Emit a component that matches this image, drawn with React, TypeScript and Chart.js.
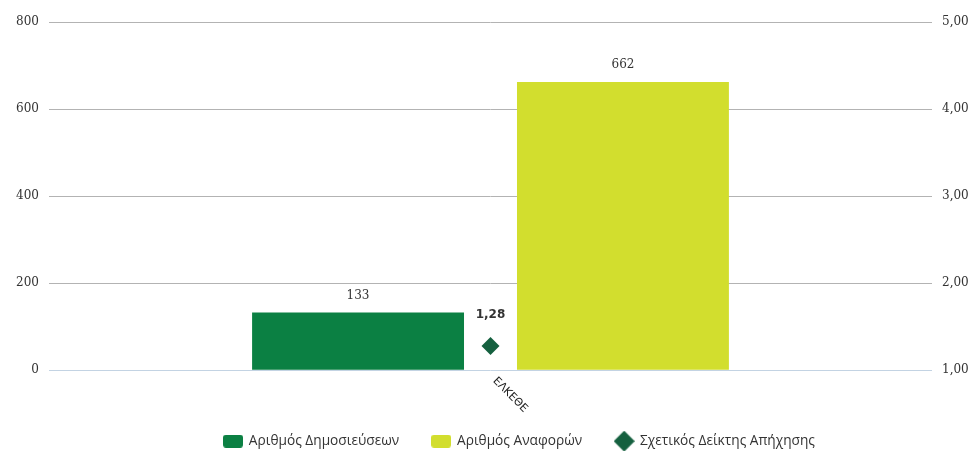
import React, { useEffect, useRef } from "react";
import { Chart, registerables } from "chart.js";

Chart.register(...registerables);

const categories = ["ΕΛΚΕΘΕ"];
const publications = [133];
const citations = [662];
const relativeIndex = [1.28];
const seriesLabels = ["Αριθμός Δημοσιεύσεων", "Αριθμός Αναφορών", "Σχετικός Δείκτης Απήχησης"];
const leftTicks = [0, 200, 400, 600, 800];
const rightTicks = [1, 2, 3, 4, 5];

const GREEN = "#0b8043";
const YELLOW = "#d2de2e";
const DARK = "#15603f";

const W = 1039;
const H = 458;

function makeBox(color: string, w: number, h: number, r: number) {
  const c = document.createElement("canvas");
  c.width = w;
  c.height = h;
  const ctx = c.getContext("2d")!;
  ctx.fillStyle = color;
  ctx.beginPath();
  (ctx as any).roundRect(0, 0, w, h, r);
  ctx.fill();
  return c;
}

function makeDiamond(color: string, s: number) {
  const c = document.createElement("canvas");
  c.width = s;
  c.height = s;
  const ctx = c.getContext("2d")!;
  ctx.fillStyle = color;
  ctx.beginPath();
  ctx.moveTo(s / 2, 0);
  ctx.lineTo(s, s / 2);
  ctx.lineTo(s / 2, s);
  ctx.lineTo(0, s / 2);
  ctx.closePath();
  ctx.fill();
  return c;
}

const fmtComma = (v: number, d: number) => v.toFixed(d).replace(".", ",");

const labelsPlugin = {
  id: "valueLabels",
  afterDatasetsDraw(chart: any) {
    const ctx = chart.ctx;
    ctx.save();
    [0, 1].forEach((di) => {
      const meta = chart.getDatasetMeta(di);
      meta.data.forEach((el: any, i: number) => {
        const v = chart.data.datasets[di].data[i];
        ctx.font = "12px 'DejaVu Serif'";
        ctx.fillStyle = "#333";
        ctx.textAlign = "center";
        ctx.textBaseline = "middle";
        ctx.fillText(String(v), el.x, el.y - 17);
      });
    });
    const meta2 = chart.getDatasetMeta(2);
    meta2.data.forEach((el: any, i: number) => {
      const v = chart.data.datasets[2].data[i];
      ctx.font = "bold 12px 'DejaVu Sans'";
      ctx.fillStyle = "#333";
      ctx.textAlign = "center";
      ctx.textBaseline = "middle";
      ctx.fillText(fmtComma(v, 2), el.x, el.y - 31);
    });
    // rotated category labels
    const xs = chart.scales.x;
    chart.data.labels.forEach((lab: string, i: number) => {
      const x = xs.getPixelForValue(i);
      ctx.save();
      ctx.translate(x + 4, chart.chartArea.bottom + 9);
      ctx.rotate(Math.PI / 4);
      ctx.font = "11px 'DejaVu Sans'";
      ctx.fillStyle = "#222";
      ctx.textAlign = "left";
      ctx.textBaseline = "middle";
      ctx.fillText(lab, 0, 0);
      ctx.restore();
    });
    ctx.restore();
  },
};

export default function App() {
  const ref = useRef<HTMLCanvasElement>(null);
  useEffect(() => {
    const icons = [makeBox(GREEN, 20, 13, 3), makeBox(YELLOW, 20, 13, 3), makeDiamond(DARK, 21)];
    const chart = new Chart(ref.current!, {
      type: "bar",
      data: {
        labels: categories,
        datasets: [
          {
            type: "bar",
            label: seriesLabels[0],
            data: publications,
            backgroundColor: GREEN,
            yAxisID: "y",
            barPercentage: 0.8,
            categoryPercentage: 0.6,
            order: 2,
          },
          {
            type: "bar",
            label: seriesLabels[1],
            data: citations,
            backgroundColor: YELLOW,
            yAxisID: "y",
            barPercentage: 0.8,
            categoryPercentage: 0.6,
            order: 2,
          },
          {
            type: "line",
            label: seriesLabels[2],
            data: relativeIndex,
            showLine: false,
            pointStyle: "rectRot",
            pointRadius: 9,
            pointBackgroundColor: DARK,
            pointBorderColor: DARK,
            pointBorderWidth: 0,
            yAxisID: "y1",
            order: 1,
          } as any,
        ],
      },
      options: {
        responsive: false,
        animation: false,
        devicePixelRatio: 1,
        layout: { padding: { top: 22, left: 0, right: 0, bottom: 0 } },
        plugins: {
          tooltip: { enabled: false },
          legend: {
            position: "bottom",
            labels: {
              usePointStyle: true,
              pointStyleWidth: 18,
              boxHeight: 13,
              padding: 33,
              color: "#333",
              font: { family: "'Open Sans'", size: 13.7 },
              generateLabels: (c: any) =>
                c.data.datasets.map((ds: any, i: number) => ({
                  text: ds.label,
                  fillStyle: "transparent",
                  strokeStyle: "transparent",
                  lineWidth: 0,
                  hidden: false,
                  datasetIndex: i,
                  pointStyle: icons[i],
                  fontColor: "#333",
                })),
            },
          },
        },
        scales: {
          x: {
            grid: { display: false },
            border: { display: false },
            ticks: { display: false },
            afterFit: (s: any) => {
              s.height = 31;
            },
          },
          y: {
            position: "left",
            min: leftTicks[0],
            max: leftTicks[leftTicks.length - 1],
            afterBuildTicks: (s: any) => {
              s.ticks = leftTicks.map((v) => ({ value: v }));
            },
            grid: {
              drawTicks: false,
              color: (c: any) => (c.tick && c.tick.value === 0 ? "#c3d3e3" : "#b3b3b3"),
              lineWidth: 1,
            },
            border: { display: false },
            ticks: {
              padding: 10,
              color: "#333",
              font: { family: "'DejaVu Serif'", size: 12 },
              callback: (v: any) => String(v),
            },
            afterFit: (s: any) => {
              s.width = 49;
            },
          },
          y1: {
            position: "right",
            min: rightTicks[0],
            max: rightTicks[rightTicks.length - 1],
            afterBuildTicks: (s: any) => {
              s.ticks = rightTicks.map((v) => ({ value: v }));
            },
            grid: { display: false, drawTicks: false },
            border: { display: false },
            ticks: {
              padding: 10,
              color: "#333",
              font: { family: "'DejaVu Serif'", size: 12 },
              callback: (v: any) => fmtComma(Number(v), 2),
            },
            afterFit: (s: any) => {
              s.width = W - 932;
            },
          },
        },
      },
      plugins: [labelsPlugin],
    } as any);
    return () => chart.destroy();
  }, []);
  return (
    <div style={{ position: "fixed", left: 0, top: 0, width: 976, height: 451, overflow: "hidden", background: "#fff" }}>
      <canvas ref={ref} width={W} height={H} style={{ width: W, height: H, display: "block" }} />
    </div>
  );
}
